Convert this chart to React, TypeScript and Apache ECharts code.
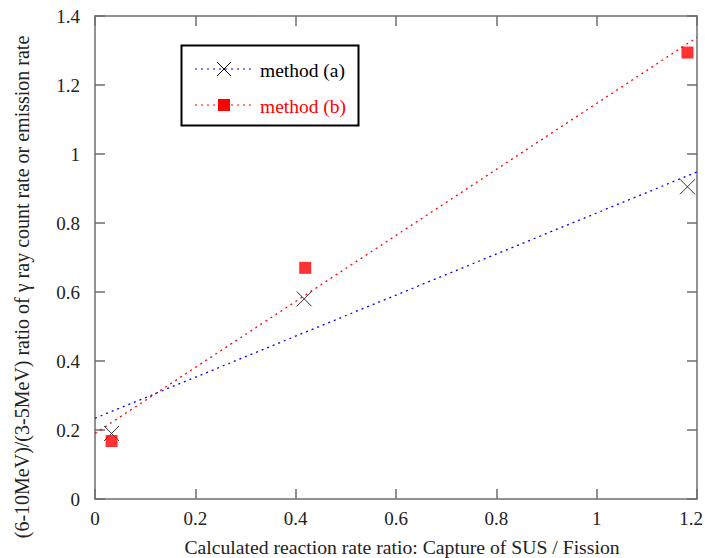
import React, { useEffect, useRef } from "react";
import * as echarts from "echarts";

const seriesNames = ["method (a)", "method (b)"];
const methodA: [number, number][] = [
  [0.033, 0.19],
  [0.417, 0.58],
  [1.181, 0.905],
];
const methodB: [number, number][] = [
  [0.033, 0.168],
  [0.419, 0.67],
  [1.181, 1.294],
];
const fitA: [number, number][] = [
  [0, 0.234],
  [1.2, 0.948],
];
const fitB: [number, number][] = [
  [0, 0.19],
  [1.2, 1.338],
];
const xTitle = "Calculated reaction rate ratio: Capture of SUS / Fission";
const yTitle = "(6-10MeV)/(3-5MeV) ratio of γ ray count rate or emission rate";

const FONT = "Liberation Serif";
const AXIS_COLOR = "#6e6e6e";

export default function App() {
  const ref = useRef<HTMLDivElement>(null);
  useEffect(() => {
    document.body.style.margin = "0";
    if (!ref.current) return;
    const chart = echarts.init(ref.current, null, { renderer: "svg" });
    const baseAxis = {
      type: "value" as const,
      axisLine: { show: true, onZero: false, lineStyle: { color: AXIS_COLOR, width: 1.5 } },
      axisTick: { show: true, inside: true, length: 10, lineStyle: { color: AXIS_COLOR, width: 1.5 } },
      splitLine: { show: false },
    };
    const labelStyle = { fontFamily: FONT, fontSize: 19, color: "#222" };
    chart.setOption({
      animation: false,
      textStyle: { fontFamily: FONT },
      grid: { left: 95, right: 8, top: 16, bottom: 59, containLabel: false, outerBoundsMode: "none" },
      xAxis: [
        {
          ...baseAxis,
          min: 0,
          max: 1.2,
          interval: 0.2,
          position: "bottom",
          axisLabel: {
            ...labelStyle,
            margin: 10,
            formatter: (v: number) => (v >= 1.2 ? "{r|" + v + "}" : String(v)),
            rich: { r: { fontFamily: FONT, fontSize: 19, color: "#222", padding: [0, 12, 0, 0] } },
          },
        },
        { ...baseAxis, min: 0, max: 1.2, interval: 0.2, position: "top", axisLabel: { show: false } },
      ],
      yAxis: [
        { ...baseAxis, min: 0, max: 1.4, interval: 0.2, position: "left", axisLabel: { ...labelStyle, margin: 15 } },
        { ...baseAxis, min: 0, max: 1.4, interval: 0.2, position: "right", axisLabel: { show: false } },
      ],
      series: [
        {
          type: "line",
          data: fitA,
          symbol: "none",
          lineStyle: { color: "#0000ff", width: 1.3, type: [2, 4] },
          z: 2,
        },
        {
          type: "line",
          data: fitB,
          symbol: "none",
          lineStyle: { color: "#ff0000", width: 1.3, type: [2, 4] },
          z: 2,
        },
        {
          name: seriesNames[0],
          type: "scatter",
          data: methodA,
          symbol: "path://M0,0L10,10M10,0L0,10",
          symbolSize: 15,
          itemStyle: { color: "none", borderColor: "#000", borderWidth: 1 },
          z: 3,
        },
        {
          name: seriesNames[1],
          type: "scatter",
          data: methodB,
          symbol: "rect",
          symbolSize: 12,
          itemStyle: { color: "#ff0000" },
          z: 3,
        },
      ],
      graphic: [
        {
          type: "rect",
          shape: { x: 181.5, y: 45.5, width: 177, height: 80 },
          style: { fill: "#fff", stroke: "#000", lineWidth: 2 },
          z: 10,
        },
        {
          type: "line",
          shape: { x1: 195, y1: 69, x2: 252, y2: 69 },
          style: { stroke: "#0000ff", lineWidth: 1.2, lineDash: [2, 4] },
          z: 11,
        },
        {
          type: "polyline",
          shape: { points: [[217, 62], [231, 76]] },
          style: { stroke: "#000", lineWidth: 1, fill: null },
          z: 12,
        },
        {
          type: "polyline",
          shape: { points: [[231, 62], [217, 76]] },
          style: { stroke: "#000", lineWidth: 1, fill: null },
          z: 12,
        },
        {
          type: "text",
          x: 260,
          y: 70,
          style: { text: seriesNames[0], fontFamily: FONT, fontSize: 19.5, fill: "#000", verticalAlign: "middle", align: "left" },
          z: 12,
        },
        {
          type: "line",
          shape: { x1: 195, y1: 105, x2: 252, y2: 105 },
          style: { stroke: "#ff0000", lineWidth: 1.2, lineDash: [2, 4] },
          z: 11,
        },
        {
          type: "rect",
          shape: { x: 218, y: 99, width: 12, height: 12 },
          style: { fill: "#ff0000" },
          z: 12,
        },
        {
          type: "text",
          x: 260,
          y: 106,
          style: { text: seriesNames[1], fontFamily: FONT, fontSize: 19.5, fill: "#ff0000", verticalAlign: "middle", align: "left" },
          z: 12,
        },
        {
          type: "text",
          x: 402,
          y: 547,
          style: { text: xTitle, fontFamily: FONT, fontSize: 19.7, fill: "#222", verticalAlign: "middle", align: "center" },
        },
        {
          type: "text",
          x: 22,
          y: 287,
          rotation: Math.PI / 2,
          style: { text: yTitle, fontFamily: FONT, fontSize: 20, fill: "#222", verticalAlign: "middle", align: "center" },
        },
      ],
    });
    return () => chart.dispose();
  }, []);
  return <div ref={ref} style={{ width: 705, height: 558 }} />;
}
